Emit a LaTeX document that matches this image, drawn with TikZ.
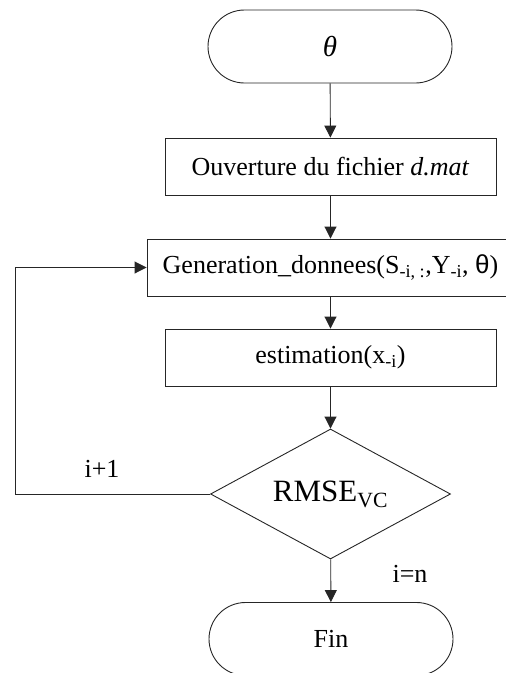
\documentclass[tikz,border=0pt]{standalone}
\usepackage{fontspec}
\setmainfont{Liberation Serif}
\newfontfamily\greeksans{Liberation Sans}
\usetikzlibrary{shapes.misc,shapes.geometric,arrows.meta}

\tikzset{
  flowline/.style={draw=black!85, line width=0.9pt},
  flowarrow/.style={flowline, -{Triangle[length=12pt,width=12pt]}},
  terminal/.style={rounded rectangle, flowline, minimum width=244pt, minimum height=73pt, inner sep=0pt},
  process/.style={rectangle, flowline, minimum height=57pt, inner sep=0pt},
  decision/.style={diamond, aspect=1.846, flowline, minimum width=240pt, minimum height=130pt, inner sep=0pt},
  label/.style={inner sep=0pt}
}

\begin{document}
\begin{tikzpicture}[x=1pt, y=-1pt, font=\fontsize{26}{30}\selectfont]
  \useasboundingbox (0,0) rectangle (506,673);
  \clip (0,0) rectangle (506,673);

  % start / end terminals
  \node[terminal] (start) at (330,46.5) {\fontsize{29}{32}\selectfont\textit{θ}};
  \node[terminal] (fin) at (331,639) {Fin};

  % processing steps
  \node[process, minimum width=331pt] (ouv) at (330.5,166.5) {Ouverture du fichier \textit{d.mat}};
  \node[process, minimum width=367pt] (gen) at (330.5,267.5)
    {Generation\_donnees(S\textsubscript{-i, :},Y\textsubscript{-i}, {\greeksans θ})};
  \node[process, minimum width=331pt] (est) at (330.5,357.5) {estimation(x\textsubscript{-i})};

  % loop test
  \node[decision] (test) at (330.5,494) {\fontsize{31}{34}\selectfont RMSE\textsubscript{VC}};

  % main flow
  \draw[flowarrow] (start) -- (ouv);
  \draw[flowarrow] (ouv) -- (gen);
  \draw[flowarrow] (gen) -- (est);
  \draw[flowarrow] (est) -- (test);
  \draw[flowarrow] (test) -- (fin);

  % return branch
  \coordinate (back) at (15,494);
  \draw[flowarrow] (test.west) -- (back) |- (gen.west);

  % branch labels
  \node[label] (inext) at (102,469) {i+1};
  \node[label] (iend) at (410,574) {i=n};
\end{tikzpicture}
\end{document}
